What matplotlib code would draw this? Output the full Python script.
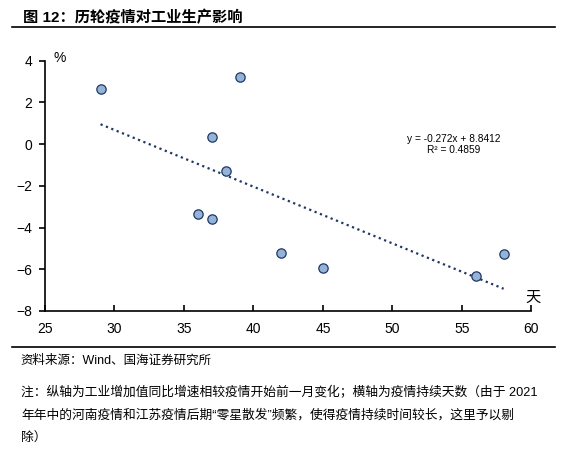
import numpy as np
import matplotlib.pyplot as plt
from matplotlib.lines import Line2D

plt.rcParams['font.family'] = ['Liberation Sans', 'Noto Sans CJK SC', 'DejaVu Sans']

# days each outbreak lasted vs. change in industrial value-added growth (%)
days = [29, 39, 37, 38, 36, 37, 42, 45, 56, 58]
change = [2.66, 3.22, 0.36, -1.31, -3.33, -3.57, -5.24, -5.95, -6.32, -5.28]

# trend line as given on the chart
slope = -0.272
intercept = 8.8412
r2 = 0.4859

x_ticks = [25, 30, 35, 40, 45, 50, 55, 60]
y_ticks = [-8, -6, -4, -2, 0, 2, 4]

title = '图 12：历轮疫情对工业生产影响'
source = '资料来源：Wind、国海证券研究所'
note_lines = [
    '注：纵轴为工业增加值同比增速相较疫情开始前一月变化；横轴为疫情持续天数（由于 2021',
    '年年中的河南疫情和江苏疫情后期“零星散发”频繁，使得疫情持续时间较长，这里予以剔',
    '除）',
]

fig = plt.figure(figsize=(5.65, 4.55), dpi=100)
ax = fig.add_axes([0.0796, 0.3165, 0.861, 0.55])

xs = np.array([min(days), max(days)])
ax.plot(xs, slope * xs + intercept, linestyle=(0, (1, 1.6)), color='#1F3864',
        linewidth=1.6, zorder=2)
ax.scatter(days, change, s=45, facecolor='#95B3D7', edgecolor='#1F3864',
           linewidth=0.9, zorder=3)

ax.set_xlim(25, 60)
ax.set_ylim(-8, 4)
ax.set_xticks(x_ticks)
ax.set_yticks(y_ticks)
ax.spines['top'].set_visible(False)
ax.spines['right'].set_visible(False)
ax.spines['left'].set_linewidth(1.2)
ax.spines['bottom'].set_linewidth(1.2)
ax.tick_params(axis='x', direction='in', length=4, width=1.2, labelsize=10, pad=8)
ax.tick_params(axis='y', direction='out', length=4, width=1.2, labelsize=10, pad=5)

ax.text(0.018, 1.01, '%', transform=ax.transAxes, fontsize=10, va='center', ha='left')
ax.text(1.003, 0.02, '天', transform=ax.transAxes, fontsize=11, va='bottom', ha='center',
        family=['Noto Sans CJK SC'])

eq = 'y = %.3fx + %.4f\nR² = %.4f' % (slope, intercept, r2)
ax.text(0.84, 0.665, eq, transform=ax.transAxes, fontsize=7.3, ha='center',
        va='center', linespacing=1.05)

fig.text(0.04, 0.962, title, fontsize=11, fontweight='bold', va='center', ha='left')
fig.add_artist(Line2D([0.021, 0.982], [0.94, 0.94], color='black', linewidth=1.2))
fig.add_artist(Line2D([0.021, 0.982], [0.237, 0.237], color='black', linewidth=1.2))
fig.text(0.037, 0.208, source, fontsize=9, va='center', ha='left')
for i, line in enumerate(note_lines):
    fig.text(0.037, 0.138 - i * 0.051, line, fontsize=9.2, va='center', ha='left')

fig.savefig('out.png', dpi=100)
